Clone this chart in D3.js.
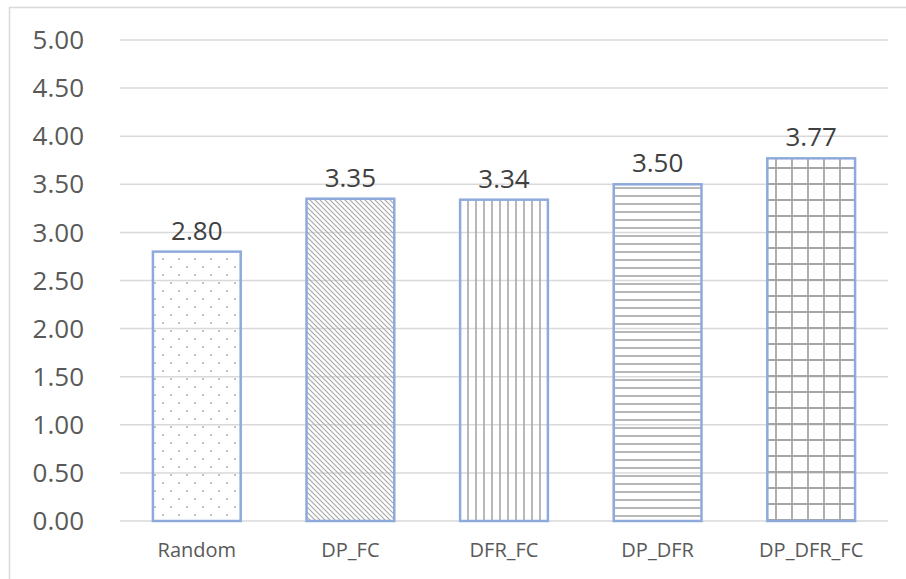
<!DOCTYPE html>
<html>
<head>
<meta charset="utf-8">
<script src="https://cdn.jsdelivr.net/npm/d3@7"></script>
<style>
  body { margin: 0; background: #fff; }
  text { font-family: "Open Sans", sans-serif; }
</style>
</head>
<body>
<div id="chart"></div>
<script>
// Data
const categories = ["Random", "DP_FC", "DFR_FC", "DP_DFR", "DP_DFR_FC"];
const values = [2.80, 3.35, 3.34, 3.50, 3.77];
const yTicks = [0, 0.5, 1, 1.5, 2, 2.5, 3, 3.5, 4, 4.5, 5];
const patterns = ["dots", "diag", "vert", "horiz", "grid"];

function draw() {
    // Dimensions
    const dimensions = {
        width: 906,
        height: 579,
        left: 120,
        right: 888,
        top: 40,
        bottom: 521,
    };

    const svg = d3.select('#chart')
        .append('svg')
        .attr('width', dimensions.width)
        .attr('height', dimensions.height);

    // chart frame
    svg.append('rect')
        .attr('x', 9.5)
        .attr('y', 7.5)
        .attr('width', 920)
        .attr('height', 600)
        .attr('fill', '#fff')
        .attr('stroke', '#d9d9d9')
        .attr('stroke-width', 1.5);

    // Patterns
    const defs = svg.append('defs');
    const lineColor = '#a6a6a6';

    const dots = defs.append('pattern').attr('id', 'dots')
        .attr('patternUnits', 'userSpaceOnUse').attr('width', 16).attr('height', 16);
    dots.append('circle').attr('cx', 3).attr('cy', 3).attr('r', 0.9).attr('fill', lineColor);
    dots.append('circle').attr('cx', 11).attr('cy', 11).attr('r', 0.9).attr('fill', lineColor);

    const diag = defs.append('pattern').attr('id', 'diag')
        .attr('patternUnits', 'userSpaceOnUse').attr('width', 5).attr('height', 5);
    diag.append('path').attr('d', 'M-1,-1L6,6M-1,4L1,6M4,-1L6,1')
        .attr('stroke', lineColor).attr('stroke-width', 1.1);

    const vert = defs.append('pattern').attr('id', 'vert')
        .attr('patternUnits', 'userSpaceOnUse').attr('width', 8).attr('height', 8);
    vert.append('path').attr('d', 'M4,0V8').attr('stroke', lineColor).attr('stroke-width', 1.6);

    const horiz = defs.append('pattern').attr('id', 'horiz')
        .attr('patternUnits', 'userSpaceOnUse').attr('width', 8).attr('height', 8);
    horiz.append('path').attr('d', 'M0,4H8').attr('stroke', lineColor).attr('stroke-width', 1.6);

    const grid = defs.append('pattern').attr('id', 'grid')
        .attr('patternUnits', 'userSpaceOnUse').attr('width', 16).attr('height', 16);
    grid.append('path').attr('d', 'M8,0V16M0,8H16').attr('stroke', lineColor).attr('stroke-width', 1.8);

    // Scales
    const xScale = d3.scaleBand()
        .domain(categories)
        .range([dimensions.left, dimensions.right])
        .paddingInner(0.4286)
        .paddingOuter(0.2143);

    const yScale = d3.scaleLinear()
        .domain([0, 5])
        .range([dimensions.bottom, dimensions.top]);

    // Gridlines
    svg.append('g')
        .selectAll('line')
        .data(yTicks)
        .join('line')
        .attr('x1', dimensions.left)
        .attr('x2', dimensions.right)
        .attr('y1', d => yScale(d))
        .attr('y2', d => yScale(d))
        .attr('stroke', '#d9d9d9')
        .attr('stroke-width', 1.5);

    // Y axis labels
    svg.append('g')
        .selectAll('text')
        .data(yTicks)
        .join('text')
        .attr('x', 84)
        .attr('y', d => yScale(d))
        .attr('dy', '0.35em')
        .attr('text-anchor', 'end')
        .attr('fill', '#595959')
        .style('font-size', '26px')
        .text(d => d3.format('.2f')(d));

    // Bars
    svg.append('g')
        .selectAll('rect')
        .data(values)
        .join('rect')
        .attr('x', (d, i) => xScale(categories[i]))
        .attr('y', d => yScale(d))
        .attr('width', xScale.bandwidth())
        .attr('height', d => yScale(0) - yScale(d))
        .attr('fill', (d, i) => `url(#${patterns[i]})`)
        .attr('stroke', '#8eaadb')
        .attr('stroke-width', 2.5);

    // Value labels
    svg.append('g')
        .selectAll('text')
        .data(values)
        .join('text')
        .attr('x', (d, i) => xScale(categories[i]) + xScale.bandwidth() / 2)
        .attr('y', d => yScale(d) - 12)
        .attr('text-anchor', 'middle')
        .attr('fill', '#404040')
        .style('font-size', '26px')
        .text(d => d3.format('.2f')(d));

    // X axis labels
    svg.append('g')
        .selectAll('text')
        .data(categories)
        .join('text')
        .attr('x', d => xScale(d) + xScale.bandwidth() / 2)
        .attr('y', 557)
        .attr('text-anchor', 'middle')
        .attr('fill', '#595959')
        .style('font-size', '20px')
        .text(d => d);
}

draw();
</script>
</body>
</html>
